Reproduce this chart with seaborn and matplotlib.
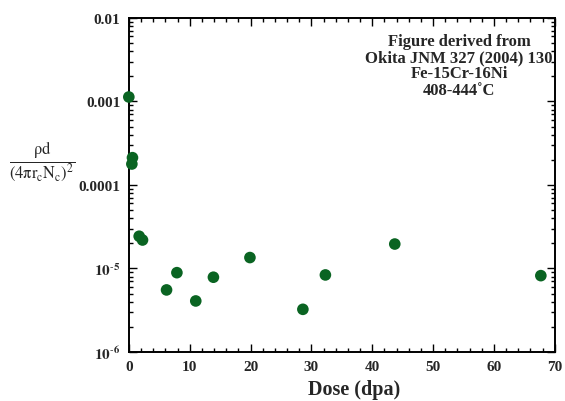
import matplotlib
matplotlib.use("Agg")
import matplotlib.pyplot as plt
import matplotlib.ticker as mticker
import numpy as np
import pandas as pd
import seaborn as sns

# values
dose = [0.0, 0.6, 0.5, 1.7, 2.25, 6.2, 7.9, 11.0, 13.9, 19.9, 28.6, 32.3, 43.7, 67.7]
ratio = [1.13e-3, 2.12e-4, 1.78e-4, 2.43e-5, 2.19e-5, 5.53e-6, 8.9e-6, 4.08e-6,
         7.85e-6, 1.35e-5, 3.24e-6, 8.36e-6, 1.96e-5, 8.2e-6]

y_ticks = [1e-6, 1e-5, 1e-4, 1e-3, 1e-2]
y_ticklabels = [r"$\mathbf{10^{\text{-}6}}$", r"$\mathbf{10^{\text{-}5}}$", "0.0001", "0.001", "0.01"]
x_ticks = [0, 10, 20, 30, 40, 50, 60, 70]

note_lines = ["Figure derived from", "Okita JNM 327 (2004) 130", "Fe-15Cr-16Ni", "408-444\u02daC"]

POINT_COLOR = "#0a6422"

sns.set_style("ticks")
plt.rcParams["font.family"] = ["Liberation Serif", "DejaVu Serif"]
plt.rcParams["mathtext.fontset"] = "stix"

df = pd.DataFrame({"dose": dose, "ratio": ratio})

fig = plt.figure(figsize=(5.65, 4.02), dpi=100)
ax = fig.add_axes([0.228, 0.122, 0.754, 0.831])

sns.scatterplot(data=df, x="dose", y="ratio", color=POINT_COLOR, s=70,
                edgecolor="none", ax=ax, clip_on=False, zorder=5)

ax.set_yscale("log")
ax.set_ylim(1e-6, 1e-2)
ax.set_xlim(0, 70)

ax.yaxis.set_major_locator(mticker.FixedLocator(y_ticks))
ax.yaxis.set_major_formatter(mticker.FixedFormatter(y_ticklabels))
ax.yaxis.set_minor_locator(mticker.LogLocator(base=10, subs=np.arange(2, 10)))
ax.yaxis.set_minor_formatter(mticker.NullFormatter())
ax.set_xticks(x_ticks)
ax.xaxis.set_minor_locator(mticker.MultipleLocator(2))

for lab in ax.get_xticklabels() + ax.get_yticklabels():
    lab.set_fontweight("bold")
    lab.set_fontsize(11)

ax.tick_params(which="both", direction="in", top=True, right=True, width=1, color="black")
ax.tick_params(which="major", length=6, pad=6)
ax.tick_params(which="minor", length=3)
for sp in ax.spines.values():
    sp.set_visible(True)
    sp.set_linewidth(1.4)
    sp.set_color("black")

ax.set_ylabel("")
ax.set_xlabel("Dose (dpa)", fontsize=14.5, fontweight="bold")
ax.xaxis.set_label_coords(0.528, -0.082)

# y label drawn as a fraction to the left of the axis
fig.text(0.074, 0.597, r"$\frac{\mathrm{ρd}}{(4\mathrm{πr_c N_c})^2}$",
         fontsize=17, ha="center", va="center", fontweight="normal")

for i, line in enumerate(note_lines):
    ax.text(0.775, 0.932 - i * 0.049, line, transform=ax.transAxes, ha="center",
            va="center", fontsize=12, fontweight="bold")

fig.savefig("out.png", dpi=100)
